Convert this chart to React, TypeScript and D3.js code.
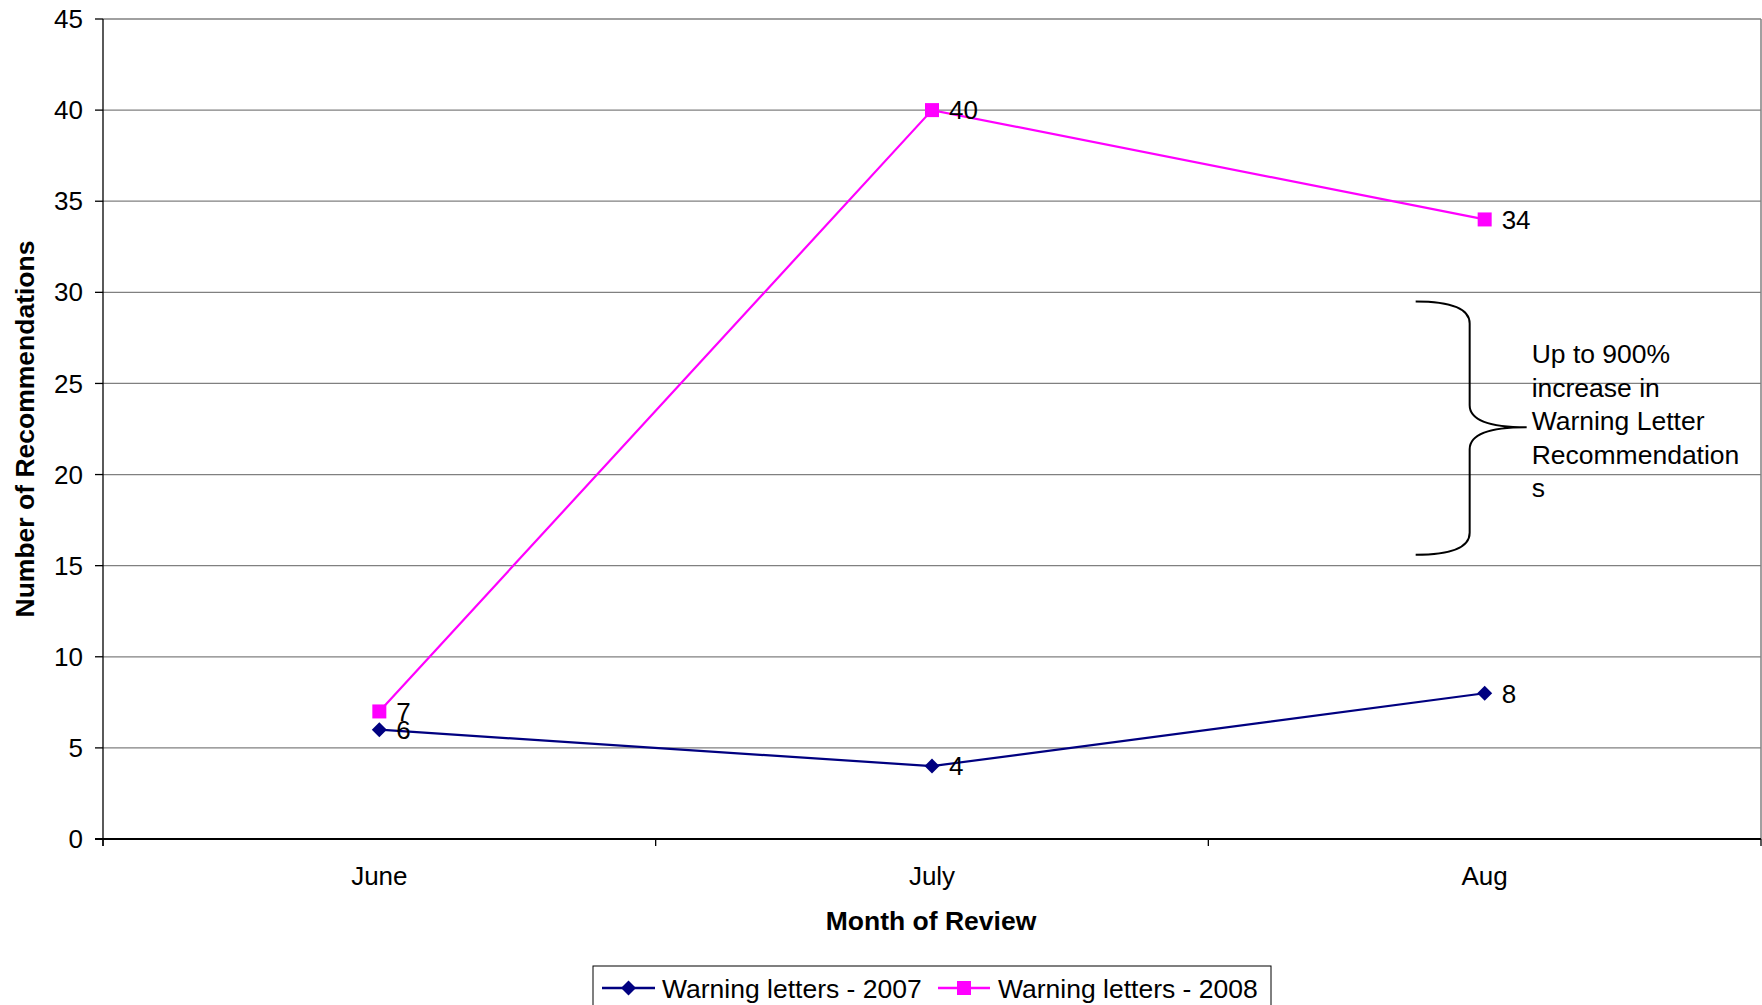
import React from "react";
import * as d3 from "d3";

const categories = ["June", "July", "Aug"];
const series2007 = [6, 4, 8];
const series2008 = [7, 40, 34];
const yTicks = [0, 5, 10, 15, 20, 25, 30, 35, 40, 45];
const seriesNames = ["Warning letters - 2007", "Warning letters - 2008"];
const annotationLines = ["Up to 900%", "increase in", "Warning Letter", "Recommendation", "s"];

const W = 1762;
const H = 1005;
const FONT = "'Liberation Sans', Arial, sans-serif";
const NAVY = "#000080";
const MAGENTA = "#FF00FF";

export default function App() {
  const plot = { left: 103, right: 1761, top: 19, bottom: 839 };
  const x = d3.scaleBand<string>().domain(categories).range([plot.left, plot.right]).paddingInner(0).paddingOuter(0);
  const y = d3.scaleLinear().domain([0, 45]).range([plot.bottom, plot.top]);
  const cx = (c: string) => (x(c) as number) + x.bandwidth() / 2;

  const line = d3
    .line<number>()
    .x((_, i) => cx(categories[i]))
    .y((d) => y(d));

  const diamond = (px: number, py: number, r: number) =>
    `M${px},${py - r}L${px + r},${py}L${px},${py + r}L${px - r},${py}Z`;

  const boundaries = [...categories.map((c) => x(c) as number), plot.right];

  const ac = cx("Aug");
  const bTop = y(29.5);
  const bBot = y(15.6);
  const bMid = y(22.6);
  const bx0 = ac - 69;
  const bx1 = ac - 15;
  const bx2 = ac + 42;
  const bracePath = `M${bx0},${bTop} Q${bx1},${bTop} ${bx1},${bTop + 22} L${bx1},${bMid - 22} Q${bx1},${bMid} ${bx2},${bMid} Q${bx1},${bMid} ${bx1},${bMid + 22} L${bx1},${bBot - 22} Q${bx1},${bBot} ${bx0},${bBot}`;

  return (
    <svg
      width={W}
      height={H}
      style={{ position: "absolute", left: 0, top: 0, background: "#fff" }}
      fontFamily={FONT}
    >
      <rect x={0} y={0} width={W} height={H} fill="#fff" />
      {yTicks.filter((t) => t > 0).map((t) => (
        <line key={t} x1={plot.left} x2={plot.right} y1={y(t)} y2={y(t)} stroke="#808080" strokeWidth={1.3} />
      ))}
      <line x1={plot.right} x2={plot.right} y1={plot.top} y2={plot.bottom} stroke="#808080" strokeWidth={1.5} />
      <line x1={plot.left} x2={plot.left} y1={plot.top} y2={plot.bottom + 7} stroke="#000" strokeWidth={1.3} />
      <line x1={plot.left - 8} x2={plot.right} y1={plot.bottom} y2={plot.bottom} stroke="#000" strokeWidth={2} />
      {yTicks.map((t) => (
        <g key={t}>
          <line x1={plot.left - 8} x2={plot.left} y1={y(t)} y2={y(t)} stroke="#000" strokeWidth={1.3} />
          <text x={83} y={y(t)} dy="0.35em" textAnchor="end" fontSize={26} fill="#000">
            {t}
          </text>
        </g>
      ))}
      {boundaries.map((b, i) => (
        <line key={i} x1={b} x2={b} y1={plot.bottom} y2={plot.bottom + 7} stroke="#000" strokeWidth={1.3} />
      ))}
      {categories.map((c) => (
        <text key={c} x={cx(c)} y={876} dy="0.35em" textAnchor="middle" fontSize={26} fill="#000">
          {c}
        </text>
      ))}
      <text x={931} y={921} dy="0.35em" textAnchor="middle" fontSize={26.5} fontWeight="bold" fill="#000">
        Month of Review
      </text>
      <text
        transform={`translate(25,${(plot.top + plot.bottom) / 2}) rotate(-90)`}
        dy="0.35em"
        textAnchor="middle"
        fontSize={26.5}
        fontWeight="bold"
        fill="#000"
      >
        Number of Recommendations
      </text>
      <path d={line(series2007) || ""} fill="none" stroke={NAVY} strokeWidth={2.2} />
      <path d={line(series2008) || ""} fill="none" stroke={MAGENTA} strokeWidth={2.2} />
      {series2007.map((v, i) => (
        <path key={"d" + i} d={diamond(cx(categories[i]), y(v), 7.5)} fill={NAVY} />
      ))}
      {series2008.map((v, i) => (
        <rect key={"s" + i} x={cx(categories[i]) - 7} y={y(v) - 7} width={14} height={14} fill={MAGENTA} />
      ))}
      {series2007.map((v, i) => (
        <text key={"l7" + i} x={cx(categories[i]) + 17} y={y(v)} dy="0.36em" fontSize={26} fill="#000">
          {v}
        </text>
      ))}
      {series2008.map((v, i) => (
        <text key={"l8" + i} x={cx(categories[i]) + 17} y={y(v)} dy="0.36em" fontSize={26} fill="#000">
          {v}
        </text>
      ))}
      <path d={bracePath} fill="none" stroke="#000" strokeWidth={2} />
      {annotationLines.map((t, i) => (
        <text key={i} x={ac + 47} y={363 + i * 33.5} fontSize={26.5} fill="#000">
          {t}
        </text>
      ))}
      <rect x={593} y={966} width={678} height={60} fill="#fff" stroke="#000" strokeWidth={1} />
      <line x1={602} x2={655} y1={988} y2={988} stroke={NAVY} strokeWidth={2.5} />
      <path d={diamond(628.5, 988, 7.5)} fill={NAVY} />
      <text x={662} y={988} dy="0.36em" fontSize={26.5} fill="#000">
        {seriesNames[0]}
      </text>
      <line x1={938} x2={990} y1={988} y2={988} stroke={MAGENTA} strokeWidth={2.5} />
      <rect x={957} y={981} width={14} height={14} fill={MAGENTA} />
      <text x={998} y={988} dy="0.36em" fontSize={26.5} fill="#000">
        {seriesNames[1]}
      </text>
    </svg>
  );
}
